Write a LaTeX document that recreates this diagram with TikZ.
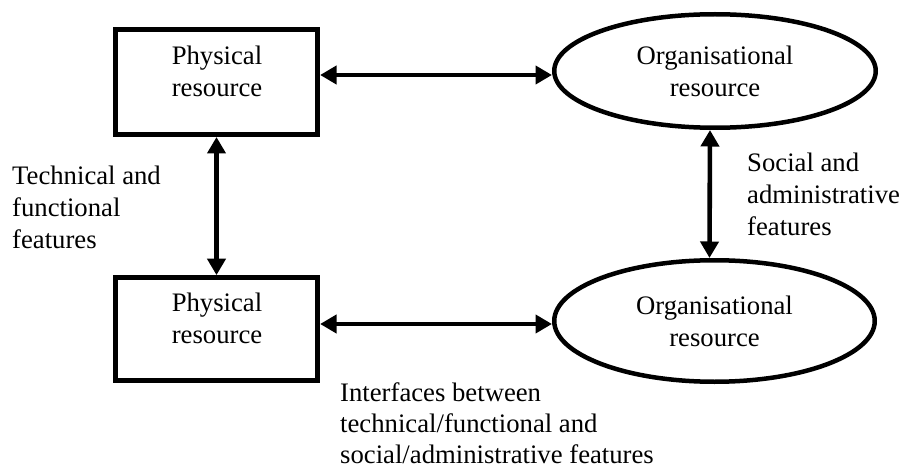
\documentclass[tikz,border=0pt]{standalone}
\usepackage{fontspec}
\setmainfont{Liberation Serif}
\usetikzlibrary{arrows.meta,shapes.geometric}
\begin{document}
\begin{tikzpicture}[x=1pt,y=-1pt,
  every node/.style={font=\fontsize{26.7}{32}\selectfont},
  resbox/.style={draw, line width=4.7pt, rectangle, minimum width=202.5pt, inner sep=0pt},
  orgell/.style={draw, line width=4.5pt, ellipse, align=center, inner sep=0pt},
  txt/.style={align=center, inner sep=0pt},
  note/.style={align=left, inner sep=0pt, anchor=west},
  link/.style={line width=4.6pt, {Triangle[length=16.5pt,width=18pt]}-{Triangle[length=16.5pt,width=18pt]}}
]
\useasboundingbox (0,0) rectangle (903,468);

% physical resources (boxes)
\node[resbox, minimum height=105.3pt] (p1) at (216.5,82) {};
\node[txt] (p1t) at (217,71.75) {Physical\\resource};
\node[resbox, minimum height=103pt] (p2) at (216.5,329) {};
\node[txt] (p2t) at (217,318.75) {Physical\\resource};

% organisational resources (ellipses)
\node[orgell, minimum width=321.5pt, minimum height=113.5pt] (o1) at (715,71) {Organisational\\resource};
\node[orgell, minimum width=320.5pt, minimum height=121.5pt] (o2) at (714.5,321) {Organisational\\resource};

% two-way links
\draw[link] ([yshift=7pt]p1.east) -- ([yshift=-4pt]o1.west);
\draw[link] ([yshift=5pt]p2.east) -- ([yshift=-3pt]o2.west);
\draw[link] (p1.south) -- (p2.north);
\draw[link] ([xshift=-5pt]o1.south) -- ([xshift=-5pt]o2.north);

% feature labels
\node[note] (tf) at (12,207.8) {Technical and\\functional\\features};
\node[note] (sa) at (747,194.8) {Social and\\administrative\\features};
\node[note, font=\fontsize{26.7}{31}\selectfont] (ifc) at (340,422.8) {Interfaces between\\technical/functional and\\social/administrative features};
\end{tikzpicture}
\end{document}
